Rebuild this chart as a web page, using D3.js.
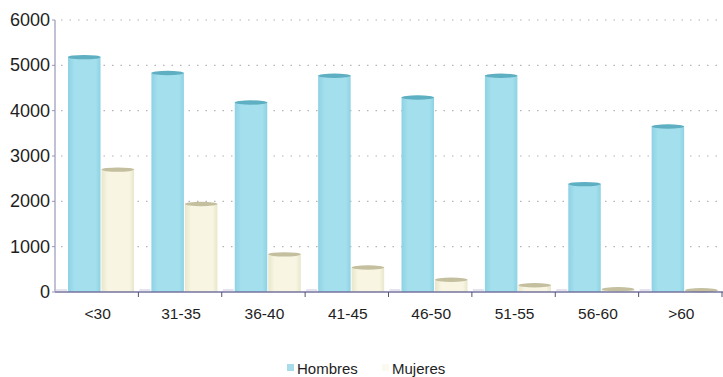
<!DOCTYPE html>
<html>
<head>
<meta charset="utf-8">
<script src="https://cdn.jsdelivr.net/npm/d3@7"></script>
<style>
  body { margin: 0; background: #fff; }
  text { font-family: "Liberation Sans", Arial, sans-serif; fill: #1e1e1e; }
</style>
</head>
<body>
<svg id="chart" width="723" height="377"></svg>
<script>
const categories = ['<30', '31-35', '36-40', '41-45', '46-50', '51-55', '56-60', '>60'];
const series = ['Hombres', 'Mujeres'];
const hombres = [5180, 4830, 4180, 4770, 4290, 4770, 2380, 3650];
const mujeres = [2700, 1940, 830, 540, 270, 150, 60, 40];
const yTicks = [0, 1000, 2000, 3000, 4000, 5000, 6000];

const width = 723,
  height = 377,
  margin = { top: 20, right: 1, bottom: 85, left: 55 },
  body = { Hombres: '#a4dfed', Mujeres: '#f8f6e2' },
  edge = { Hombres: '#8ed2e3', Mujeres: '#e9e6cc' },
  cap = { Hombres: '#5eafc2', Mujeres: '#c4bf9e' };

const svg = d3.select('#chart');

const x = d3.scaleBand()
  .domain(categories)
  .range([margin.left, width - margin.right]);

const xs = d3.scaleBand()
  .domain(series)
  .range([x.bandwidth() * 0.156, x.bandwidth() * 0.96]);

const y = d3.scaleLinear()
  .domain([0, 6000])
  .range([height - margin.bottom, margin.top]);

// gradients for the cylinders
const defs = svg.append('defs');
series.forEach(s => {
  const g = defs.append('linearGradient')
    .attr('id', 'grad-' + s)
    .attr('x1', '0%').attr('x2', '100%');
  g.append('stop').attr('offset', '0%').attr('stop-color', edge[s]);
  g.append('stop').attr('offset', '20%').attr('stop-color', body[s]);
  g.append('stop').attr('offset', '85%').attr('stop-color', body[s]);
  g.append('stop').attr('offset', '100%').attr('stop-color', edge[s]);
});

// dotted grid
svg.append('g')
  .selectAll('line')
  .data(yTicks.filter(d => d > 0))
  .join('line')
  .attr('x1', margin.left + 6)
  .attr('x2', width)
  .attr('y1', d => y(d))
  .attr('y2', d => y(d))
  .attr('stroke', '#b4b4b8')
  .attr('stroke-width', 1.2)
  .attr('stroke-dasharray', '1.5,7');

// floor plates between groups
svg.append('g')
  .selectAll('line')
  .data(categories)
  .join('line')
  .attr('x1', d => x(d) + 1)
  .attr('x2', d => x(d) + 12)
  .attr('y1', y(0) - 2)
  .attr('y2', y(0) - 2)
  .attr('stroke', '#c9c6dc')
  .attr('stroke-width', 1);

// bars
const data = categories.flatMap((c, i) => [
  { cat: c, s: 'Hombres', v: hombres[i] },
  { cat: c, s: 'Mujeres', v: mujeres[i] }
]);

const bars = svg.append('g')
  .selectAll('g')
  .data(data)
  .join('g')
  .attr('transform', d => `translate(${x(d.cat) + xs(d.s)},0)`);

bars.append('rect')
  .attr('x', 0)
  .attr('y', d => y(d.v))
  .attr('width', xs.bandwidth() - 1)
  .attr('height', d => y(0) - y(d.v))
  .attr('fill', d => `url(#grad-${d.s})`);

bars.append('ellipse')
  .attr('cx', (xs.bandwidth() - 1) / 2)
  .attr('cy', d => y(d.v))
  .attr('rx', (xs.bandwidth() - 1) / 2)
  .attr('ry', 2.2)
  .attr('fill', d => cap[d.s]);

// axes
const xAxis = svg.append('g')
  .attr('transform', `translate(0,${y(0)})`);
xAxis.append('line')
  .attr('x1', margin.left)
  .attr('x2', width)
  .attr('stroke', '#75739f')
  .attr('stroke-width', 1.5);
xAxis.selectAll('.tk')
  .data(categories)
  .join('line')
  .attr('class', 'tk')
  .attr('x1', d => x(d) + x.bandwidth())
  .attr('x2', d => x(d) + x.bandwidth())
  .attr('y1', 0)
  .attr('y2', 5)
  .attr('stroke', '#55536f');
xAxis.selectAll('text')
  .data(categories)
  .join('text')
  .attr('x', d => x(d) + x.bandwidth() / 2 + 1)
  .attr('y', 27)
  .attr('text-anchor', 'middle')
  .style('font-size', '15.5px')
  .text(d => d);

const yAxis = svg.append('g');
yAxis.append('line')
  .attr('x1', margin.left)
  .attr('x2', margin.left)
  .attr('y1', y(6000))
  .attr('y2', y(0))
  .attr('stroke', '#9896b8')
  .attr('stroke-width', 1.2);
yAxis.selectAll('.tk')
  .data(yTicks)
  .join('line')
  .attr('class', 'tk')
  .attr('x1', margin.left - 3)
  .attr('x2', margin.left)
  .attr('y1', d => y(d))
  .attr('y2', d => y(d))
  .attr('stroke', '#9896b8');
yAxis.selectAll('text')
  .data(yTicks)
  .join('text')
  .attr('x', margin.left - 5)
  .attr('y', d => y(d) + 6)
  .attr('text-anchor', 'end')
  .style('font-size', '18px')
  .text(d => d);

// legend
const legend = svg.append('g').attr('transform', 'translate(287,369)');
const lx = { Hombres: 0, Mujeres: 95 };
series.forEach(s => {
  legend.append('rect')
    .attr('x', lx[s])
    .attr('y', -5)
    .attr('width', 7)
    .attr('height', 7)
    .attr('fill', s === 'Hombres' ? '#a8dcea' : '#fbfaf0');
  legend.append('text')
    .attr('x', lx[s] + 10)
    .attr('y', 5)
    .style('font-size', '15px')
    .text(s);
});
</script>
</body>
</html>
